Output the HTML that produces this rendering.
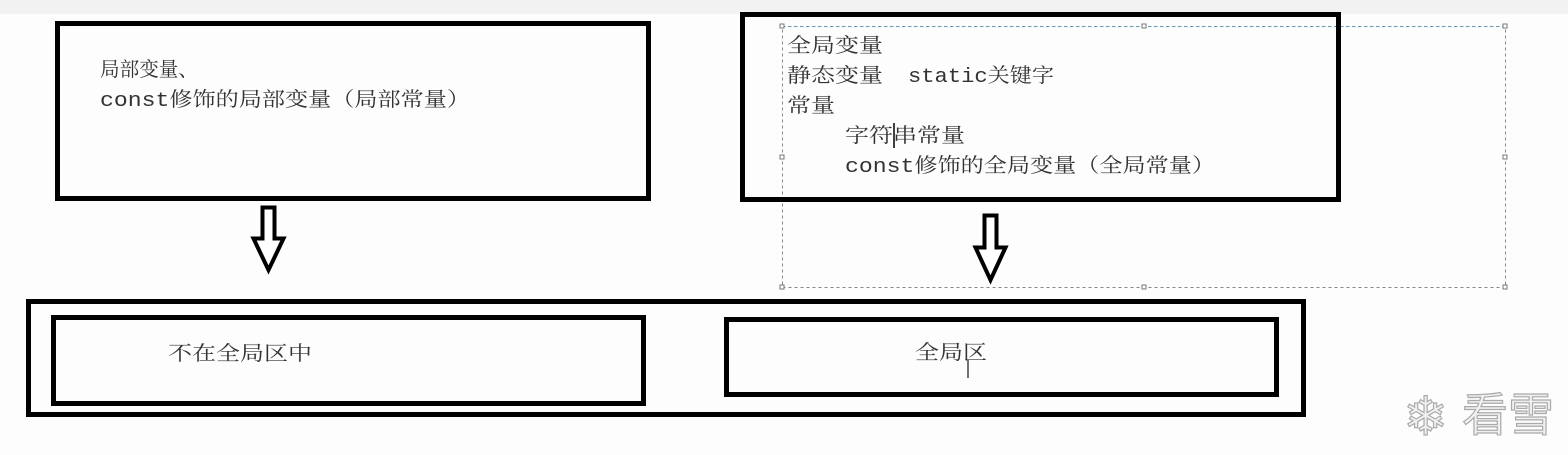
<!DOCTYPE html>
<html><head><meta charset="utf-8"><style>
html,body{margin:0;padding:0;background:#fdfdfd;}
svg{display:block}
text{font-family:"Liberation Mono","Noto Serif CJK SC","Noto Sans CJK SC",monospace;font-size:20px;fill:#333;}
</style></head><body>
<svg width="1568" height="455" viewBox="0 0 1568 455" xmlns="http://www.w3.org/2000/svg">
<rect x="0" y="0" width="1568" height="455" fill="#fdfdfd"/>
<rect x="0" y="0" width="1568" height="14" fill="#f2f2f2"/>
<!-- selection -->
<rect x="782.5" y="26.5" width="723" height="261" fill="none" stroke="#888" stroke-dasharray="3,3" stroke-width="1"/>
<line x1="782" y1="26.5" x2="1506" y2="26.5" stroke="#4aa3e0" stroke-dasharray="3,3"/>
<g fill="#fff" stroke="#777" stroke-width="1">
<rect x="780" y="24" width="4" height="4"/><rect x="1142" y="24" width="4" height="4"/><rect x="1503" y="24" width="4" height="4"/>
<rect x="780" y="155" width="4" height="4"/><rect x="1503" y="155" width="4" height="4"/>
<rect x="780" y="285" width="4" height="4"/><rect x="1142" y="285" width="4" height="4"/><rect x="1503" y="285" width="4" height="4"/>
</g>
<!-- top boxes -->
<rect x="57.5" y="23.5" width="591" height="175" fill="none" stroke="#000" stroke-width="5"/>
<rect x="742.5" y="14.5" width="596" height="185" fill="none" stroke="#000" stroke-width="5"/>
<text x="100" y="76" textLength="98" lengthAdjust="spacingAndGlyphs">局部变量、</text>
<text x="100" y="106" textLength="370" lengthAdjust="spacingAndGlyphs">const修饰的局部变量（局部常量）</text>
<text x="787" y="52" textLength="96" lengthAdjust="spacingAndGlyphs">全局变量</text>
<text x="787" y="82" textLength="96" lengthAdjust="spacingAndGlyphs">静态变量</text>
<text x="908" y="82" textLength="146" lengthAdjust="spacingAndGlyphs">static关键字</text>
<text x="787" y="112" textLength="48" lengthAdjust="spacingAndGlyphs">常量</text>
<text x="845" y="142" textLength="120" lengthAdjust="spacingAndGlyphs">字符串常量</text>
<line x1="894" y1="123" x2="894" y2="148" stroke="#000" stroke-width="1.5"/>
<text x="845" y="172" textLength="370" lengthAdjust="spacingAndGlyphs">const修饰的全局变量（全局常量）</text>
<!-- arrows -->
<path d="M262.5,207.5 H274.5 V238.5 H283.5 L268.5,270 L253.5,238.5 H262.5 Z" fill="#fff" stroke="#000" stroke-width="4"/>
<path d="M984.5,215.5 H996.5 V247.5 H1005.5 L990.5,280 L975.5,247.5 H984.5 Z" fill="#fff" stroke="#000" stroke-width="4"/>
<!-- bottom -->
<rect x="28.5" y="301.5" width="1275" height="113" fill="none" stroke="#000" stroke-width="5"/>
<rect x="53.5" y="317.5" width="590" height="86" fill="none" stroke="#000" stroke-width="5"/>
<rect x="726.5" y="319.5" width="550" height="75" fill="none" stroke="#000" stroke-width="5"/>
<text x="168" y="360" textLength="144" lengthAdjust="spacingAndGlyphs">不在全局区中</text>
<text x="915" y="359" textLength="72" lengthAdjust="spacingAndGlyphs">全局区</text>
<line x1="968" y1="360" x2="968" y2="378" stroke="#444" stroke-width="1.5"/>
<!-- watermark -->
<text x="1403" y="435" style="font-size:54px;fill:#f0f0f0;stroke:#aaa;stroke-width:1.2;font-family:'Noto Sans CJK SC',sans-serif">❄</text>
<text x="1462" y="431" textLength="92" lengthAdjust="spacingAndGlyphs" style="font-size:46px;fill:#f0f0f0;stroke:#aaa;stroke-width:1.2;font-family:'Noto Sans CJK SC',sans-serif">看雪</text>
</svg>
</body></html>
